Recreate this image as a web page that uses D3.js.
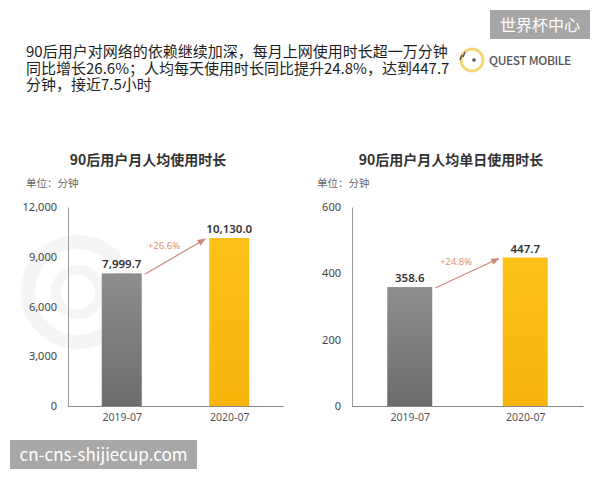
<!DOCTYPE html>
<html lang="zh">
<head>
    <meta charset="UTF-8">
    <title>90后用户使用时长</title>
    <script src="https://cdn.jsdelivr.net/npm/d3@7"></script>
    <style>
        body { margin: 0; background: #fff; }
        #chart { position: relative; width: 600px; height: 480px; }
        #chart svg { position: absolute; left: 0; top: 0; }
        text { font-family: "Noto Sans CJK SC", "Noto Sans", sans-serif; }
        .header {
            position: absolute;
            left: 26px;
            top: 43px;
            font-family: "Noto Sans CJK SC", sans-serif;
            font-size: 15px;
            line-height: 16.5px;
            color: #1e1e1e;
            white-space: pre-line;
        }
    </style>
</head>
<body>
<div id="chart"></div>
<script>
    // 数据
    var categories = ["2019-07", "2020-07"];
    var monthlyValues = [7999.7, 10130.0];
    var dailyValues = [358.6, 447.7];
    var monthlyTicks = [0, 3000, 6000, 9000, 12000];
    var dailyTicks = [0, 200, 400, 600];
    var growthLabels = ["+26.6%", "+24.8%"];
    var headerLines = [
        "90后用户对网络的依赖继续加深，每月上网使用时长超一万分钟",
        "同比增长26.6%；人均每天使用时长同比提升24.8%，达到447.7",
        "分钟，接近7.5小时"
    ];

    var svg = d3.select("#chart").append("svg")
        .attr("width", 600)
        .attr("height", 480);

    var defs = svg.append("defs");
    var grayGrad = defs.append("linearGradient")
        .attr("id", "grayGrad").attr("x1", 0).attr("y1", 0).attr("x2", 0).attr("y2", 1);
    grayGrad.append("stop").attr("offset", "0%").attr("stop-color", "#8e8e8e");
    grayGrad.append("stop").attr("offset", "100%").attr("stop-color", "#6c6c6c");
    var yellowGrad = defs.append("linearGradient")
        .attr("id", "yellowGrad").attr("x1", 0).attr("y1", 0).attr("x2", 0).attr("y2", 1);
    yellowGrad.append("stop").attr("offset", "0%").attr("stop-color", "#fcc21a");
    yellowGrad.append("stop").attr("offset", "100%").attr("stop-color", "#f7b50c");
    var marker = defs.append("marker")
        .attr("id", "arrowHead")
        .attr("viewBox", "0 0 10 10")
        .attr("refX", 9).attr("refY", 5)
        .attr("markerWidth", 7).attr("markerHeight", 7)
        .attr("orient", "auto");
    marker.append("path").attr("d", "M0,1 L10,5 L0,9 Z").attr("fill", "#c9897a");

    // 水印(只画logo圈)
    var wm = svg.append("g");
    wm.append("circle").attr("cx", 78).attr("cy", 292).attr("r", 50)
        .attr("fill", "none").attr("stroke", "#f5f5f5").attr("stroke-width", 14);
    wm.append("circle").attr("cx", 78).attr("cy", 292).attr("r", 22)
        .attr("fill", "none").attr("stroke", "#f5f5f5").attr("stroke-width", 10);

    // 标题文字(一段文字，换行)
    d3.select("#chart").append("div")
        .attr("class", "header")
        .text(headerLines.join("\n"));

    // logo
    var logo = svg.append("g");
    logo.append("circle").attr("cx", 472).attr("cy", 60).attr("r", 11)
        .attr("fill", "none").attr("stroke", "#f3d77a").attr("stroke-width", 3);
    logo.append("circle").attr("cx", 474).attr("cy", 60).attr("r", 1.8).attr("fill", "#555");
    logo.append("path").attr("d", "M462,55 L460,60 M465,52 L463,57")
        .attr("stroke", "#555").attr("stroke-width", 1.5);
    logo.append("text").attr("x", 489).attr("y", 64.5)
        .attr("font-size", 12).attr("font-weight", "500")
        .attr("fill", "#555").attr("letter-spacing", -0.4)
        .text("QUEST MOBILE");

    // 右上角标签
    svg.append("rect").attr("x", 490).attr("y", 10).attr("width", 100).attr("height", 29)
        .attr("fill", "#a6a6a6");
    svg.append("text").attr("x", 540).attr("y", 30.5).attr("text-anchor", "middle")
        .attr("font-size", 16).attr("fill", "#fff").text("世界杯中心");

    // 左下角标签
    svg.append("rect").attr("x", 10).attr("y", 440).attr("width", 187).attr("height", 29)
        .attr("fill", "#a8a8a8");
    svg.append("text").attr("x", 103.5).attr("y", 460.5).attr("text-anchor", "middle")
        .attr("font-size", 17).attr("fill", "#fff").text("cn-cns-shijiecup.com");

    var drawBar = function (opt) {
        var g = svg.append("g");
        var y = d3.scaleLinear().domain([0, opt.max]).range([406, 207]);
        var x = d3.scalePoint().domain(categories).range([opt.left, opt.right]).padding(0.5);
        var bw = opt.barWidth;

        g.append("text")
            .attr("x", opt.titleX).attr("y", 165)
            .attr("text-anchor", "middle")
            .attr("font-size", 14).attr("font-weight", "bold")
            .attr("fill", "#333")
            .text(opt.title);
        g.append("text")
            .attr("x", opt.unitX).attr("y", 187)
            .attr("font-size", 10.5).attr("fill", "#666")
            .text("单位：分钟");

        // y轴
        var yAxis = g.append("g")
            .attr("transform", "translate(" + opt.left + ",0)")
            .call(d3.axisLeft(y).tickValues(opt.ticks).tickSize(0).tickPadding(11)
                .tickFormat(d3.format(",")));
        yAxis.select(".domain").attr("stroke", "#9a9a9a");
        yAxis.selectAll("text").attr("font-size", 11).attr("fill", "#444")
            .style("font-family", "'Noto Sans', sans-serif");

        // 柱
        g.selectAll("rect.bar")
            .data(opt.values)
            .enter()
            .append("rect")
            .attr("class", "bar")
            .attr("x", function (d, i) { return x(categories[i]) - bw / 2; })
            .attr("y", function (d) { return y(d); })
            .attr("width", bw)
            .attr("height", function (d) { return y(0) - y(d); })
            .attr("fill", function (d, i) { return i === 0 ? "url(#grayGrad)" : "url(#yellowGrad)"; });

        // x轴
        var xAxis = g.append("g")
            .attr("transform", "translate(0," + y(0) + ")")
            .call(d3.axisBottom(x).tickSize(0).tickPadding(8));
        xAxis.select(".domain").attr("stroke", "#888").attr("stroke-width", 1.2);
        xAxis.selectAll("text").attr("font-size", 10.5).attr("fill", "#555")
            .style("font-family", "'Noto Sans', sans-serif");

        // 数值标签
        g.selectAll("text.val")
            .data(opt.values)
            .enter()
            .append("text")
            .attr("class", "val")
            .attr("x", function (d, i) { return x(categories[i]); })
            .attr("y", function (d) { return y(d) - 5; })
            .attr("text-anchor", "middle")
            .attr("font-size", 11.5).attr("font-weight", "600")
            .attr("fill", "#333")
            .style("font-family", "'Noto Sans', sans-serif")
            .text(function (d) { return d3.format(",.1f")(d); });

        // 增长箭头
        var x1 = x(categories[0]) + bw / 2 + 3, y1 = y(opt.values[0]) + 1;
        var x2 = x(categories[1]) - bw / 2 - 4, y2 = y(opt.values[1]) + 1;
        g.append("line")
            .attr("x1", x1).attr("y1", y1).attr("x2", x2).attr("y2", y2)
            .attr("stroke", "#c9897a").attr("stroke-width", 1.2)
            .attr("marker-end", "url(#arrowHead)");
        g.append("text")
            .attr("x", (x1 + x2) / 2 - 11)
            .attr("y", (y1 + y2) / 2 - 8)
            .attr("text-anchor", "middle")
            .attr("font-size", 9.5).attr("fill", "#e0907a")
            .style("font-family", "'Noto Sans', sans-serif")
            .text(opt.growth);
    };

    drawBar({
        title: "90后用户月人均使用时长", titleX: 148, unitX: 26,
        values: monthlyValues, max: 12000, ticks: monthlyTicks,
        left: 68, right: 283, barWidth: 40, growth: growthLabels[0]
    });
    drawBar({
        title: "90后用户月人均单日使用时长", titleX: 451, unitX: 317,
        values: dailyValues, max: 600, ticks: dailyTicks,
        left: 352, right: 583, barWidth: 45, growth: growthLabels[1]
    });
</script>
</body>
</html>
